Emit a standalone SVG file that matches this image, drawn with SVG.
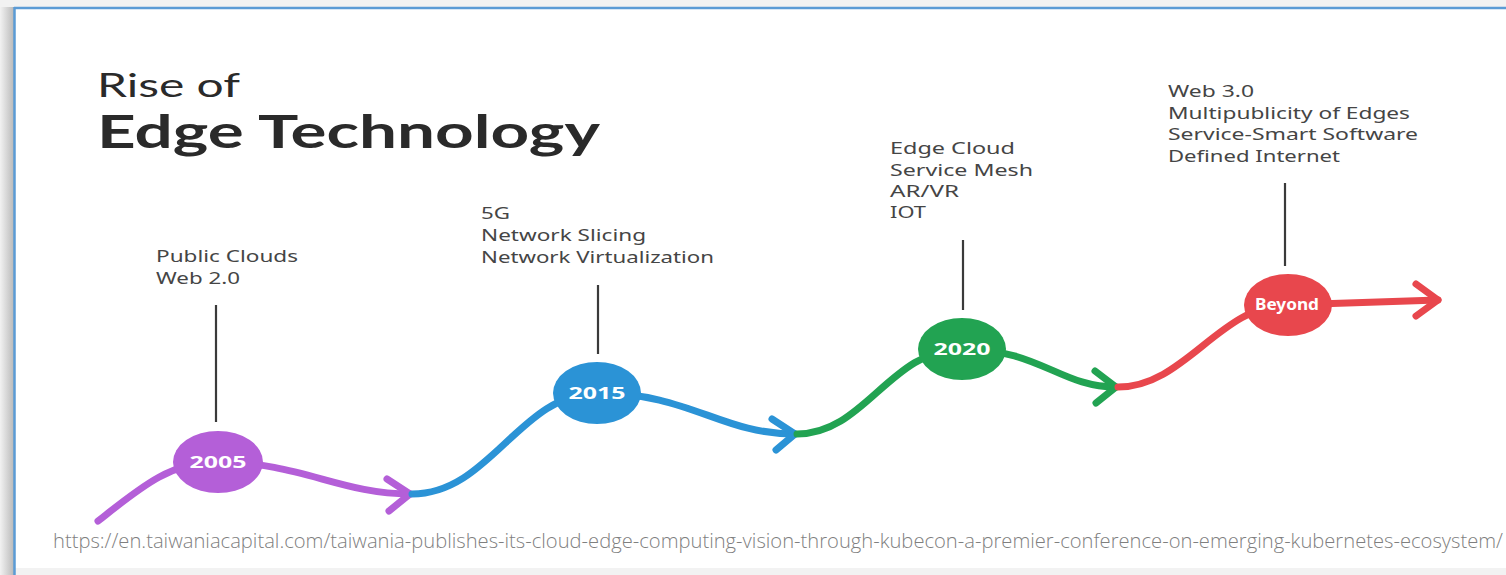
<svg xmlns="http://www.w3.org/2000/svg" width="1506" height="575" viewBox="0 0 1506 575">
<defs>
<linearGradient id="sh" x1="0" y1="0" x2="1" y2="0">
<stop offset="0" stop-color="#f2f2f2"/>
<stop offset="1" stop-color="#b9b9b9"/>
</linearGradient>
<style>
.lbl{font-family:"Noto Sans","DejaVu Sans",sans-serif;font-size:16px;fill:#454545}
.yr{font-family:"Noto Sans","DejaVu Sans",sans-serif;font-weight:bold;font-size:16px;fill:#ffffff;text-anchor:middle}
.stem{stroke:#3a3a3a;stroke-width:2.2;fill:none}
.crv{fill:none;stroke-width:7;stroke-linecap:round;stroke-linejoin:round}
</style>
</defs>
<rect x="0" y="0" width="1506" height="575" fill="#f2f2f2"/>
<rect x="0" y="7" width="14" height="568" fill="url(#sh)"/>
<rect x="14" y="7" width="1492" height="561" fill="#ffffff"/>
<line x1="14" y1="8" x2="1506" y2="8" stroke="#5b9bd5" stroke-width="2.5"/>
<line x1="14.5" y1="7" x2="14.5" y2="575" stroke="#5b9bd5" stroke-width="2.5"/>

<g id="title">
<text x="97" y="97" font-family="Lato,'Noto Sans',sans-serif" font-size="33" fill="#2a2a2a" textLength="143" lengthAdjust="spacingAndGlyphs">Rise of</text>
<text x="97" y="148" font-family="Lato,'Noto Sans',sans-serif" font-weight="bold" font-size="46" fill="#2a2a2a" textLength="503" lengthAdjust="spacingAndGlyphs">Edge Technology</text>
</g>

<g id="connectors">
<path class="crv" stroke="#b45fd8" d="M98,521 C140,488 170,462 216,462 C300,462 340,494 410,494"/>
<polyline class="crv" stroke="#b45fd8" points="387,479 410,494 389,511"/>
<path class="crv" stroke="#2b93d6" d="M412,494 C490,494 520,393 597,393 C690,393 720,434 795,434"/>
<polyline class="crv" stroke="#2b93d6" points="772,419 795,434 776,450"/>
<path class="crv" stroke="#22a352" d="M797,434 C865,434 890,349 962,349 C1040,349 1060,387 1116,387"/>
<polyline class="crv" stroke="#22a352" points="1095,371 1116,387 1096,403"/>
<path class="crv" stroke="#e8474d" d="M1118,387 C1185,387 1220,305 1287,305 L1438,300"/>
<polyline class="crv" stroke="#e8474d" points="1416,284 1438,300 1416,316"/>
<line class="stem" x1="216" y1="305" x2="216" y2="422"/>
<line class="stem" x1="598" y1="285" x2="598" y2="354"/>
<line class="stem" x1="963" y1="240" x2="963" y2="310"/>
<line class="stem" x1="1285" y1="183" x2="1285" y2="266"/>
</g>

<g id="n2005">
<ellipse cx="218" cy="462" rx="45" ry="31" fill="#b45fd8"/>
<text class="yr" x="218" y="468" textLength="57" lengthAdjust="spacingAndGlyphs">2005</text>
<text class="lbl" x="156" y="262" textLength="142" lengthAdjust="spacingAndGlyphs">Public Clouds</text>
<text class="lbl" x="156" y="284" textLength="84" lengthAdjust="spacingAndGlyphs">Web 2.0</text>
</g>
<g id="n2015">
<ellipse cx="597" cy="393" rx="44" ry="31" fill="#2b93d6"/>
<text class="yr" x="597" y="399" textLength="57" lengthAdjust="spacingAndGlyphs">2015</text>
<text class="lbl" x="481" y="219" textLength="29" lengthAdjust="spacingAndGlyphs">5G</text>
<text class="lbl" x="481" y="241" textLength="165" lengthAdjust="spacingAndGlyphs">Network Slicing</text>
<text class="lbl" x="481" y="263" textLength="233" lengthAdjust="spacingAndGlyphs">Network Virtualization</text>
</g>
<g id="n2020">
<ellipse cx="962" cy="349" rx="44" ry="31" fill="#22a352"/>
<text class="yr" x="962" y="355" textLength="57" lengthAdjust="spacingAndGlyphs">2020</text>
<text class="lbl" x="890" y="154" textLength="125" lengthAdjust="spacingAndGlyphs">Edge Cloud</text>
<text class="lbl" x="890" y="176" textLength="143" lengthAdjust="spacingAndGlyphs">Service Mesh</text>
<text class="lbl" x="890" y="197" textLength="69" lengthAdjust="spacingAndGlyphs">AR/VR</text>
<text class="lbl" x="890" y="218" textLength="36" lengthAdjust="spacingAndGlyphs">IOT</text>
</g>
<g id="nBeyond">
<ellipse cx="1288" cy="305" rx="44" ry="31" fill="#e8474d"/>
<text class="yr" x="1287" y="310" font-size="14" textLength="64" lengthAdjust="spacingAndGlyphs">Beyond</text>
<text class="lbl" x="1168" y="97" textLength="86" lengthAdjust="spacingAndGlyphs">Web 3.0</text>
<text class="lbl" x="1168" y="119" textLength="242" lengthAdjust="spacingAndGlyphs">Multipublicity of Edges</text>
<text class="lbl" x="1168" y="140" textLength="250" lengthAdjust="spacingAndGlyphs">Service-Smart Software</text>
<text class="lbl" x="1168" y="162" textLength="172" lengthAdjust="spacingAndGlyphs">Defined Internet</text>
</g>

<text x="53" y="548" font-family="'Open Sans','Noto Sans',sans-serif" font-weight="300" font-size="20" fill="#7f7f7f" textLength="1450" lengthAdjust="spacingAndGlyphs">https://en.taiwaniacapital.com/taiwania-publishes-its-cloud-edge-computing-vision-through-kubecon-a-premier-conference-on-emerging-kubernetes-ecosystem/</text>
</svg>
